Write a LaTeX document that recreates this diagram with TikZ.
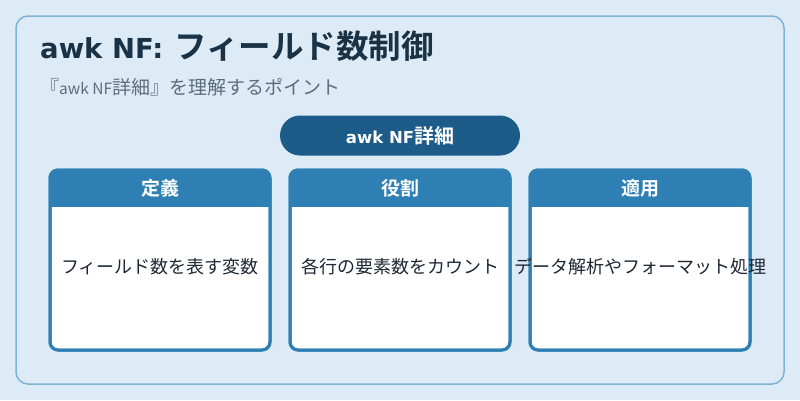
\documentclass[tikz,border=0pt]{standalone}
\usepackage{fontspec}
\setmainfont{Noto Sans CJK JP}[BoldFont={Noto Sans CJK JP Bold}]
\newfontfamily\latfont{DejaVu Sans}[BoldFont={DejaVu Sans Bold}]
\definecolor{bgc}{HTML}{DCEBF6}
\definecolor{outerc}{HTML}{7FB3D5}
\definecolor{titlec}{HTML}{1A3246}
\definecolor{subc}{HTML}{5D6D7E}
\definecolor{pillc}{HTML}{1D5C88}
\definecolor{headc}{HTML}{2E7FB4}
\definecolor{textc}{HTML}{1C2833}
\begin{document}
\begin{tikzpicture}[x=1pt,y=-1pt,
  card/.style={draw=headc,line width=3pt,fill=white,rounded corners=8pt},
  headtext/.style={text=white,font=\bfseries\fontsize{19}{22}\selectfont},
  bodytext/.style={text=textc,font=\fontsize{18}{22}\selectfont},
]
\useasboundingbox (0,0) rectangle (800,400);
\fill[bgc] (0,0) rectangle (800,400);
\draw[outerc,line width=1.5pt,rounded corners=12pt] (16,16) rectangle (784,384);
\node[anchor=base west,text=titlec,inner sep=0pt] (title) at (40,58.5)
  {{\latfont\bfseries\fontsize{27.5}{32}\selectfont awk NF:}\hspace{11pt}{\bfseries\fontsize{32.5}{36}\selectfont フィールド数制御}};
\node[anchor=base west,text=subc,inner sep=0pt] (sub) at (40,94)
  {\fontsize{19}{22}\selectfont 『{\fontsize{15.5}{18}\selectfont awk NF}詳細』を理解するポイント};
\node[fill=pillc,rounded corners=20pt,minimum width=240pt,minimum height=40pt,text=white] (pill) at (400,135.5)
  {{\latfont\bfseries\fontsize{16.5}{20}\selectfont awk NF}{\bfseries\fontsize{20}{22}\selectfont 詳細}};
\foreach \i/\x/\h/\b in {1/50/定義/フィールド数を表す変数, 2/290/役割/各行の要素数をカウント, 3/530/適用/データ解析やフォーマット処理}{
  \draw[card] (\x,170) rectangle ++(220,180);
  \begin{scope}
    \clip[rounded corners=8pt] (\x,170) rectangle ++(220,180);
    \fill[headc] (\x,170) rectangle ++(220,37);
  \end{scope}
  \draw[headc,line width=3pt,rounded corners=8pt] (\x,170) rectangle ++(220,180);
  \node[headtext] (h\i) at (\x+110,188.5) {\h};
  \node[bodytext] (b\i) at (\x+110,267) {\b};
}
\end{tikzpicture}
\end{document}
